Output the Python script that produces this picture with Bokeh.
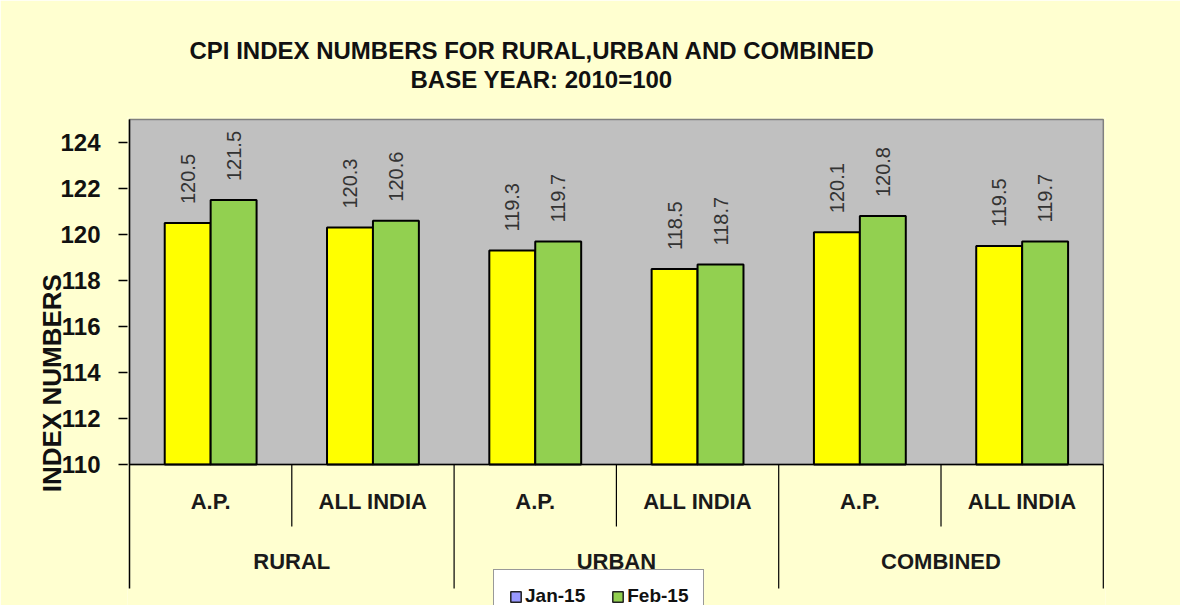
import numpy as np
from bokeh.plotting import figure
from bokeh.models import Range1d, FixedTicker, Title, Legend, LegendItem
from bokeh.core.properties import value
from bokeh.embed import file_html
from bokeh.resources import INLINE

# ---------------- data ----------------
groups = ["RURAL", "URBAN", "COMBINED"]
regions = ["A.P.", "ALL INDIA", "A.P.", "ALL INDIA", "A.P.", "ALL INDIA"]
jan15 = [120.5, 120.3, 119.3, 118.5, 120.1, 119.5]
feb15 = [121.5, 120.6, 119.7, 118.7, 120.8, 119.7]
series_names = ["Jan-15", "Feb-15"]
y_ticks = [110, 112, 114, 116, 118, 120, 122, 124]
title_line1 = "CPI INDEX NUMBERS FOR  RURAL,URBAN AND COMBINED"
title_line2 = "BASE YEAR: 2010=100"
y_label = "INDEX NUMBERS"

# ---------------- style ----------------
FONT = "Liberation Sans"
BG = "#FFFFD0"
PLOT_BG = "#C0C0C0"
YELLOW = "#FFFF00"
GREEN = "#92D050"
LEG_BLUE = "#9999FF"

n = len(regions)
base = y_ticks[0]
ymax = y_ticks[-1] + 1
bw = 0.283
centers = np.arange(n) + 0.5
PX = 23.0  # pixels per y unit (for layout helpers)

p = figure(width=1180, height=605,
           x_range=Range1d(-0.0123, n + 0.0135),
           y_range=Range1d(base - (605 - 464) / PX, ymax + 2 / PX),
           output_backend="svg", toolbar_location=None,
           x_axis_location=None,
           min_border_left=127, min_border_right=75,
           min_border_top=117, min_border_bottom=0,
           background_fill_color=BG, border_fill_color=BG,
           outline_line_color=None)
p.grid.visible = False

# y axis
ax = p.yaxis[0]
ax.ticker = FixedTicker(ticks=y_ticks)
ax.axis_line_color = None
ax.major_tick_out = 9
ax.major_tick_in = 0
ax.major_tick_line_color = "black"
ax.major_tick_line_width = 1.5
ax.minor_tick_line_color = None
ax.major_label_standoff = 18
ax.major_label_text_font = FONT
ax.major_label_text_font_size = "24px"
ax.major_label_text_font_style = "bold"
ax.major_label_text_color = "#111111"
ax.axis_label = y_label + "\u00a0" * 6
ax.axis_label_text_font = FONT
ax.axis_label_text_font_size = "26px"
ax.axis_label_text_font_style = "bold"
ax.axis_label_text_color = "#111111"
ax.axis_label_standoff = -10

# plot area background
p.quad(left=[0], right=[n], bottom=[base], top=[ymax],
       fill_color=PLOT_BG, line_color="#808080", line_width=1.5)

# bars
p.vbar(x=centers - bw / 2, bottom=base, top=jan15, width=bw,
       fill_color=YELLOW, line_color="black", line_width=2)
p.vbar(x=centers + bw / 2, bottom=base, top=feb15, width=bw,
       fill_color=GREEN, line_color="black", line_width=2)

# value labels
for xs, vals in ((centers - bw / 2, jan15), (centers + bw / 2, feb15)):
    p.text(x=xs, y=vals, text=[f"{v:.1f}" for v in vals],
           angle=np.pi / 2, text_align="left", text_baseline="middle",
           y_offset=-19, text_font=value(FONT), text_font_size="20px",
           text_color="#333333")

# x axis baseline
p.segment(x0=[0], y0=[base], x1=[n], y1=[base], line_color="black", line_width=1.5)

# category separators
short_end = base - (526 - 464) / PX
long_end = base - (588 - 464) / PX
sub_x = [i for i in range(1, n, 2)]
p.segment(x0=sub_x, y0=[base] * len(sub_x), x1=sub_x, y1=[short_end] * len(sub_x),
          line_color="black", line_width=1.2)
grp_x = [i for i in range(2, n + 1, 2)]
p.segment(x0=grp_x, y0=[base] * len(grp_x), x1=grp_x, y1=[long_end] * len(grp_x),
          line_color="black", line_width=1.2)
p.segment(x0=[0], y0=[ymax], x1=[0], y1=[long_end], line_color="black", line_width=1.5)

# category labels
p.text(x=centers, y=[base - (501 - 464) / PX] * n, text=regions, text_align="center",
       text_baseline="middle", text_font=value(FONT), text_font_size="22px",
       text_font_style="bold", text_color="#1a1a1a")
gx = np.arange(len(groups)) * 2 + 1
p.text(x=gx, y=[base - (561 - 464) / PX] * len(groups), text=groups, text_align="center",
       text_baseline="middle", text_font=value(FONT), text_font_size="22px",
       text_font_style="bold", text_color="#1a1a1a")

# legend (off-screen proxy renderers carrying the legend swatches)
r1 = p.vbar(x=[-100], bottom=[base], top=[base], width=0.1,
            fill_color=LEG_BLUE, line_color="#222222", line_width=1.5)
r2 = p.vbar(x=[-100], bottom=[base], top=[base], width=0.1,
            fill_color=GREEN, line_color="#222222", line_width=1.5)
legend = Legend(items=[LegendItem(label=series_names[0], renderers=[r1]),
                       LegendItem(label=series_names[1], renderers=[r2])],
                location=(366, -18), orientation="horizontal",
                background_fill_color="white", background_fill_alpha=1,
                border_line_color="#333333", border_line_width=1.5,
                padding=15, spacing=26, margin=0,
                label_text_font=FONT, label_text_font_size="19px",
                label_text_font_style="bold", label_standoff=3,
                label_text_color="#111111",
                glyph_width=13, glyph_height=13, label_height=19)
p.add_layout(legend)

# titles
spacer = Title(text=" ", text_font_size="17px", standoff=4)
t2 = Title(text=title_line2, align="left", offset=283, text_font=FONT,
           text_font_size="24px", text_font_style="bold", standoff=0,
           text_color="#111111")
t1 = Title(text=title_line1, align="left", offset=62, text_font=FONT,
           text_font_size="24px", text_font_style="bold", standoff=0,
           text_color="#111111")
p.add_layout(spacer, "above")
p.add_layout(t2, "above")
p.add_layout(t1, "above")

open("out.html", "w").write(file_html(p, INLINE))
